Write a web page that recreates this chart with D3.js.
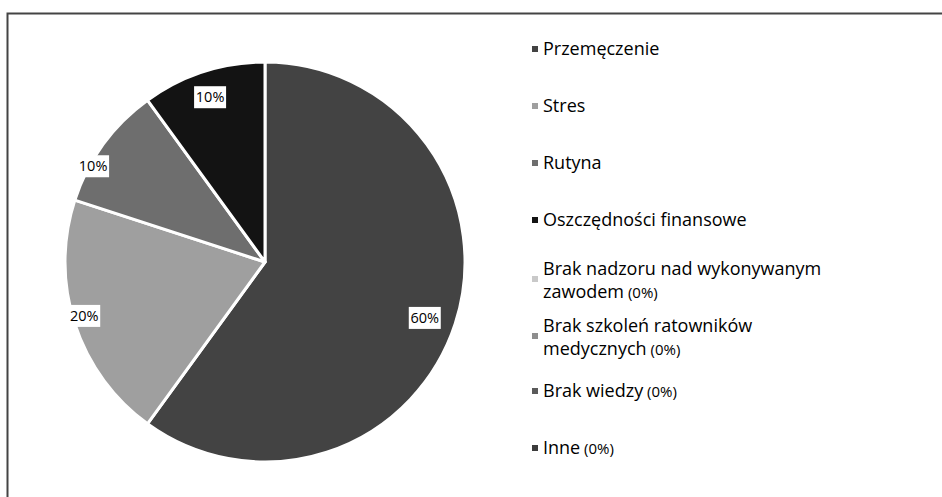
<!DOCTYPE html>
<html>
<head>
<meta charset="utf-8">
<script src="https://cdn.jsdelivr.net/npm/d3@7"></script>
<style>
  body { margin: 0; background: #fff; }
  text { font-family: "Open Sans", sans-serif; }
</style>
</head>
<body>
<div id="chart"></div>
<script>
// data
var categories = ["Przemęczenie", "Stres", "Rutyna", "Oszczędności finansowe",
  "Brak nadzoru nad wykonywanym zawodem", "Brak szkoleń ratowników medycznych",
  "Brak wiedzy", "Inne"];
var values = [60, 20, 10, 10, 0, 0, 0, 0];
var colors = ["#434343", "#9f9f9f", "#6e6e6e", "#131313", "#c9c9c9", "#8e8e8e", "#5a5a5a", "#3c3c3c"];
// legend text lines (second element = part shown smaller)
var legendLines = [
  [["Przemęczenie", ""]],
  [["Stres", ""]],
  [["Rutyna", ""]],
  [["Oszczędności finansowe", ""]],
  [["Brak nadzoru nad wykonywanym", ""], ["zawodem", " (0%)"]],
  [["Brak szkoleń ratowników", ""], ["medycznych", " (0%)"]],
  [["Brak wiedzy", " (0%)"]],
  [["Inne", " (0%)"]]
];
// small nudges of the data labels (best-fit placement)
var labelNudge = [[0, 4], [-21, 2], [-36, 3], [-3, -5]];

function init() {
  var width = 942, height = 497;
  var cx = 265, cy = 262, radius = 200;

  var svg = d3.select("#chart").append("svg")
    .attr("width", width)
    .attr("height", height);

  // frame (only top and left visible in the picture)
  svg.append("rect")
    .attr("x", 7.5).attr("y", 13.5)
    .attr("width", 960).attr("height", 520)
    .attr("fill", "none")
    .attr("stroke", "#444")
    .attr("stroke-width", 2);

  var pie = d3.pie().sort(null).value(function(d) { return d; });
  var arcs = pie(values);
  var arc = d3.arc().innerRadius(0).outerRadius(radius);
  var labelArc = d3.arc().innerRadius(radius * 0.84).outerRadius(radius * 0.84);

  var g = svg.append("g").attr("transform", "translate(" + cx + "," + cy + ")");

  g.selectAll("path")
    .data(arcs.filter(function(d) { return d.value > 0; }))
    .enter()
    .append("path")
    .attr("d", arc)
    .attr("fill", function(d) { return colors[d.index]; })
    .attr("stroke", "#fff")
    .attr("stroke-width", 3)
    .attr("stroke-linejoin", "round");

  var labels = g.selectAll("g.lbl")
    .data(arcs.filter(function(d) { return d.value > 0; }))
    .enter()
    .append("g")
    .attr("class", "lbl")
    .attr("transform", function(d) {
      var c = labelArc.centroid(d);
      var n = labelNudge[d.index];
      return "translate(" + (c[0] + n[0]) + "," + (c[1] + n[1]) + ")";
    });

  labels.append("rect")
    .attr("x", -16).attr("y", -11)
    .attr("width", 32).attr("height", 22)
    .attr("fill", "#fff");

  labels.append("text")
    .attr("text-anchor", "middle")
    .attr("dy", "0.36em")
    .style("font-size", "14.5px")
    .attr("fill", "#000")
    .text(function(d) { return d.value + "%"; });

  // legend
  var legendY = d3.scalePoint()
    .domain(d3.range(categories.length))
    .range([49, 448]);

  var leg = svg.selectAll("g.leg")
    .data(categories)
    .enter()
    .append("g")
    .attr("class", "leg")
    .attr("transform", function(d, i) {
      var y = legendY(i);
      if (legendLines[i].length > 1) y -= 8;
      return "translate(532," + y + ")";
    });

  leg.append("rect")
    .attr("x", 0)
    .attr("y", function(d, i) { return legendLines[i].length > 1 ? 7 : -3; })
    .attr("width", 6).attr("height", 6)
    .attr("fill", function(d, i) { return colors[i]; });

  leg.each(function(d, i) {
    var sel = d3.select(this);
    legendLines[i].forEach(function(line, j) {
      var t = sel.append("text")
        .attr("x", 11)
        .attr("y", j * 23)
        .attr("dy", "0.36em")
        .attr("fill", "#000")
        .style("font-size", "18px");
      t.append("tspan").text(line[0]);
      if (line[1]) t.append("tspan").style("font-size", "15px").text(line[1]);
    });
  });
}

window.onload = init;
</script>
</body>
</html>
